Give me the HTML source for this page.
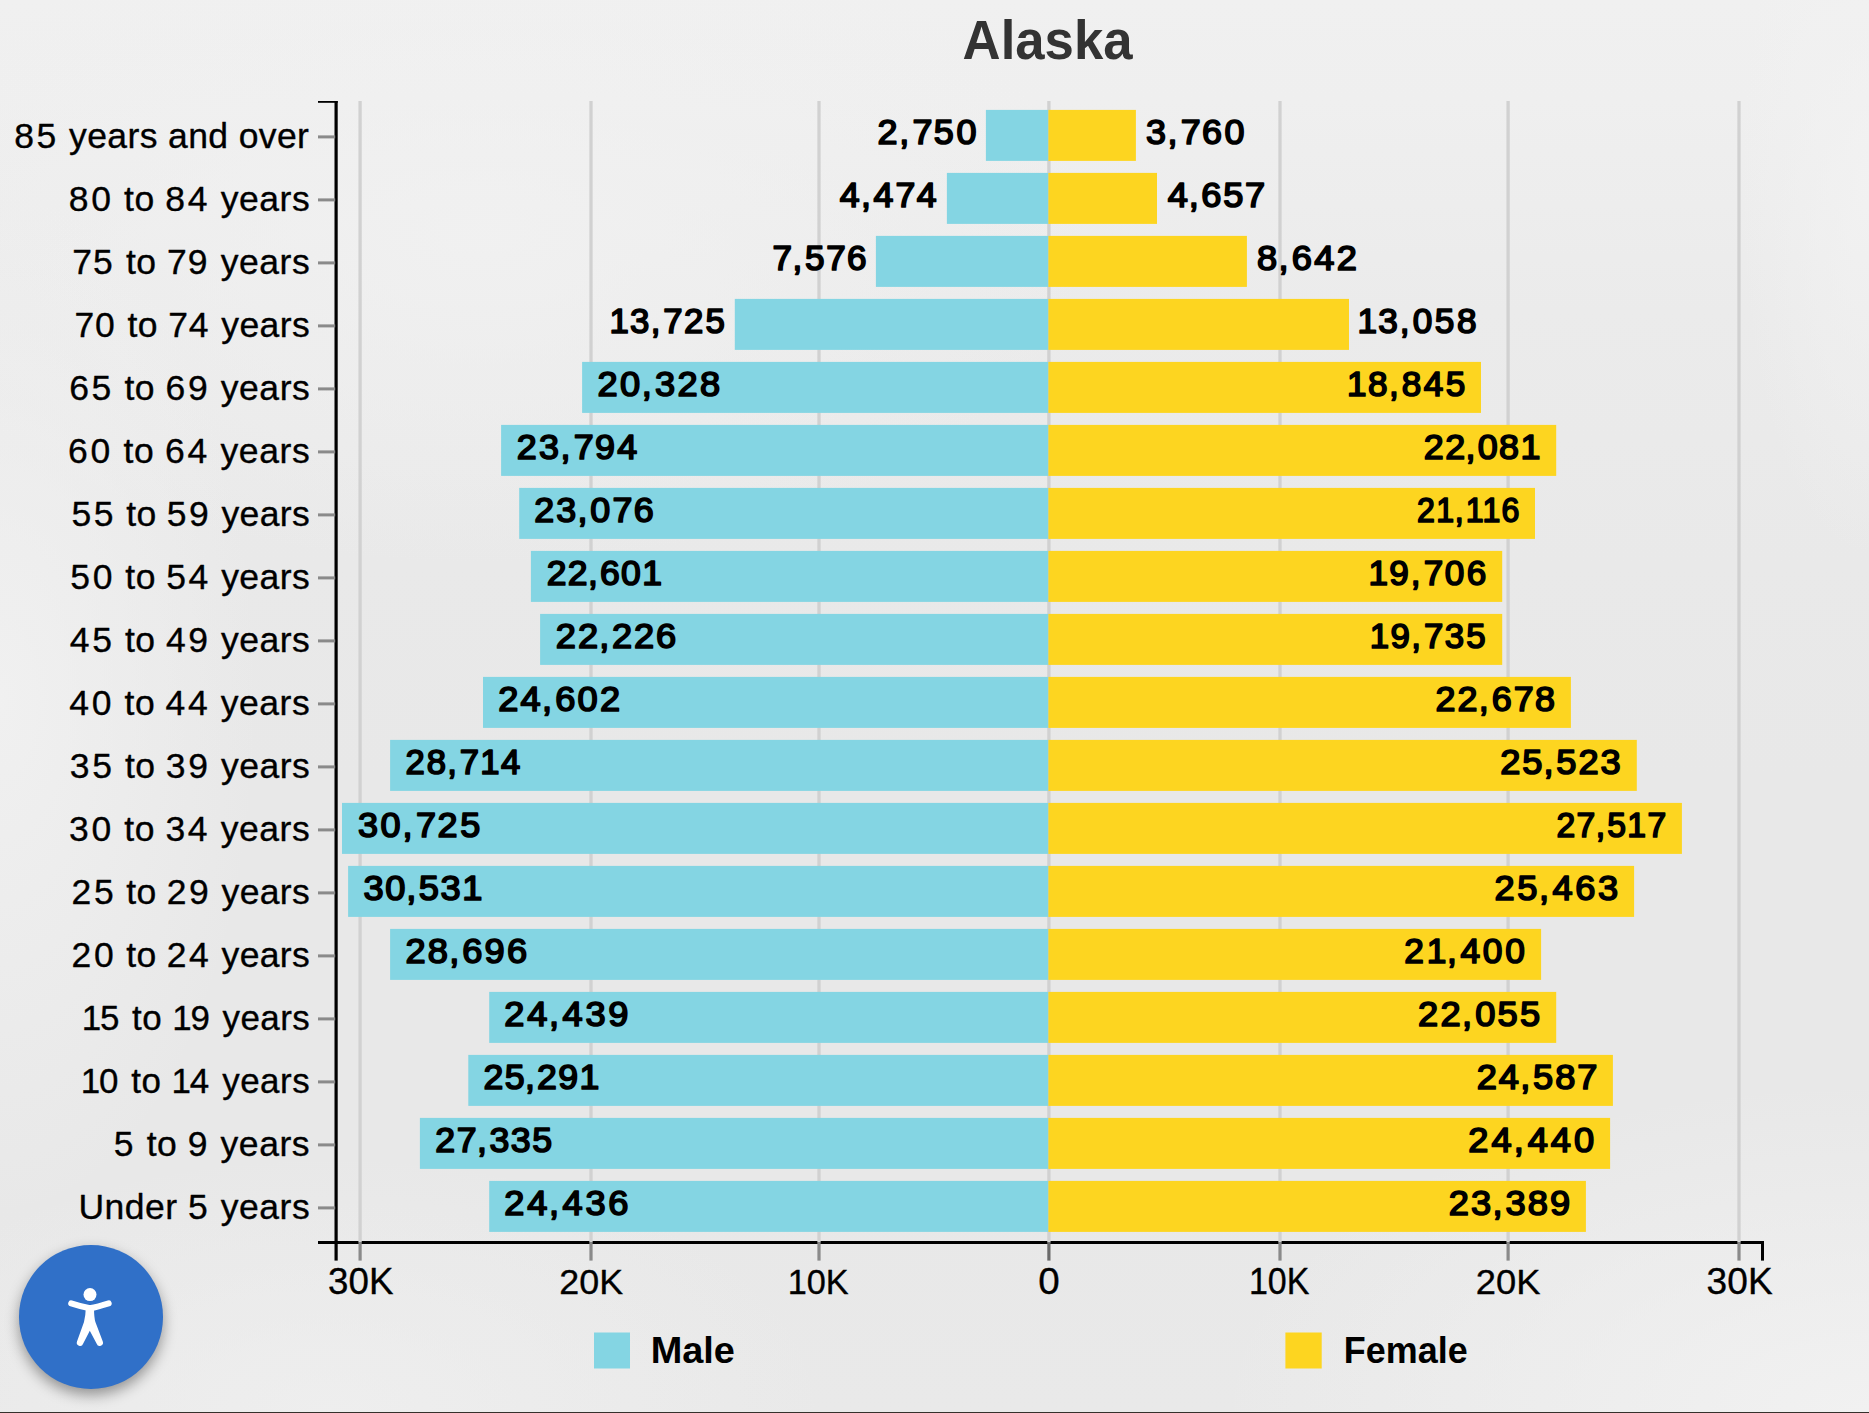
<!DOCTYPE html>
<html lang="en">
<head>
<meta charset="utf-8">
<title>Alaska population pyramid</title>
<style>
html,body{margin:0;padding:0;}
body{width:1869px;height:1413px;overflow:hidden;position:relative;background:#eeeeee;font-family:"Liberation Sans",sans-serif;}
#bg{position:absolute;left:0;top:0;width:1869px;height:1413px;
 background:
  radial-gradient(ellipse 650px 330px at 1869px 1413px, rgba(241,241,241,1), rgba(241,241,241,0) 100%),
  radial-gradient(ellipse 260px 520px at 0px 700px, rgba(241,241,241,.9), rgba(241,241,241,0) 100%),
  radial-gradient(ellipse 500px 260px at 330px 1413px, rgba(240,240,240,.7), rgba(240,240,240,0) 100%),
  radial-gradient(ellipse 620px 340px at 480px 230px, rgba(241,241,241,.85), rgba(241,241,241,0) 100%),
  radial-gradient(ellipse 130px 380px at 1869px 180px, rgba(242,242,242,.85), rgba(242,242,242,0) 100%),
  linear-gradient(180deg,#f0f0f0 0%,#efefef 7%,#ebebeb 22%,#e9e9e9 40%,#e8e8e8 55%,#e8e8e8 85%,#e9e9e9 100%);}
#chart{position:absolute;left:0;top:0;display:block;}
.grid rect{fill:#d1d1d1;}
.male rect,.legend .m{fill:#84d5e3;}
.female rect,.legend .f{fill:#fdd520;}
.axis rect{fill:#000;}
.ticks rect{fill:#8a8a8a;}
.ticks rect.zero{fill:#6a6a6a;}
text{fill:#000;white-space:pre;}
.title text{fill:#333;}
#a11y{position:absolute;left:19.2px;top:1244.9px;width:143.7px;height:143.7px;border-radius:50%;background:#3070c8;box-shadow:0 6px 14px rgba(0,0,0,.38);}
#a11y svg{position:absolute;left:0;top:0;}
#bottomline{position:absolute;left:0;top:1412px;width:1869px;height:1px;background:#35302b;}

</style>
</head>
<body>
<div id="bg"></div>
<svg id="chart" width="1869" height="1413" viewBox="0 0 1869 1413">
<g class="axis">
<rect x="334.5" y="101" width="3.2" height="1159.6"/>
<rect x="318" y="101" width="19.7" height="1.8"/>
<rect x="318" y="1241" width="1446" height="3"/>
<rect x="1761" y="1241" width="3" height="19.6"/>
</g>
<g class="grid">
<rect x="358.45" y="101" width="3.3" height="1141.6"/>
<rect x="589.35" y="101" width="3.3" height="1141.6"/>
<rect x="817.35" y="101" width="3.3" height="1141.6"/>
<rect x="1047.25" y="101" width="3.3" height="1141.6"/>
<rect x="1278.35" y="101" width="3.3" height="1141.6"/>
<rect x="1506.45" y="101" width="3.3" height="1141.6"/>
<rect x="1737.35" y="101" width="3.3" height="1141.6"/>
</g>
<g class="male">
<rect x="985.9" y="109.9" width="62.5" height="51.0"/>
<rect x="946.9" y="172.9" width="101.5" height="51.0"/>
<rect x="875.9" y="235.9" width="172.5" height="51.0"/>
<rect x="734.8" y="298.9" width="313.6" height="51.0"/>
<rect x="582.1" y="361.9" width="466.3" height="51.0"/>
<rect x="501.1" y="424.9" width="547.3" height="51.0"/>
<rect x="519.2" y="487.9" width="529.2" height="51.0"/>
<rect x="530.9" y="550.9" width="517.5" height="51.0"/>
<rect x="540.1" y="613.9" width="508.3" height="51.0"/>
<rect x="483.0" y="676.9" width="565.4" height="51.0"/>
<rect x="390.1" y="739.9" width="658.3" height="51.0"/>
<rect x="342.0" y="802.9" width="706.4" height="51.0"/>
<rect x="348.1" y="865.9" width="700.3" height="51.0"/>
<rect x="390.1" y="928.9" width="658.3" height="51.0"/>
<rect x="489.2" y="991.9" width="559.2" height="51.0"/>
<rect x="468.3" y="1054.9" width="580.1" height="51.0"/>
<rect x="419.9" y="1117.9" width="628.5" height="51.0"/>
<rect x="489.2" y="1180.9" width="559.2" height="51.0"/>
</g>
<g class="female">
<rect x="1048.4" y="109.9" width="87.5" height="51.0"/>
<rect x="1048.4" y="172.9" width="108.6" height="51.0"/>
<rect x="1048.4" y="235.9" width="198.5" height="51.0"/>
<rect x="1048.4" y="298.9" width="300.6" height="51.0"/>
<rect x="1048.4" y="361.9" width="432.6" height="51.0"/>
<rect x="1048.4" y="424.9" width="507.8" height="51.0"/>
<rect x="1048.4" y="487.9" width="486.6" height="51.0"/>
<rect x="1048.4" y="550.9" width="453.8" height="51.0"/>
<rect x="1048.4" y="613.9" width="453.8" height="51.0"/>
<rect x="1048.4" y="676.9" width="522.5" height="51.0"/>
<rect x="1048.4" y="739.9" width="588.4" height="51.0"/>
<rect x="1048.4" y="802.9" width="633.5" height="51.0"/>
<rect x="1048.4" y="865.9" width="585.7" height="51.0"/>
<rect x="1048.4" y="928.9" width="492.7" height="51.0"/>
<rect x="1048.4" y="991.9" width="507.8" height="51.0"/>
<rect x="1048.4" y="1054.9" width="564.5" height="51.0"/>
<rect x="1048.4" y="1117.9" width="561.7" height="51.0"/>
<rect x="1048.4" y="1180.9" width="537.5" height="51.0"/>
</g>
<g class="ticks">
<rect x="318" y="135.4" width="17.2" height="3"/>
<rect x="318" y="198.4" width="17.2" height="3"/>
<rect x="318" y="261.4" width="17.2" height="3"/>
<rect x="318" y="324.4" width="17.2" height="3"/>
<rect x="318" y="387.4" width="17.2" height="3"/>
<rect x="318" y="450.4" width="17.2" height="3"/>
<rect x="318" y="513.4" width="17.2" height="3"/>
<rect x="318" y="576.4" width="17.2" height="3"/>
<rect x="318" y="639.4" width="17.2" height="3"/>
<rect x="318" y="702.4" width="17.2" height="3"/>
<rect x="318" y="765.4" width="17.2" height="3"/>
<rect x="318" y="828.4" width="17.2" height="3"/>
<rect x="318" y="891.4" width="17.2" height="3"/>
<rect x="318" y="954.4" width="17.2" height="3"/>
<rect x="318" y="1017.4" width="17.2" height="3"/>
<rect x="318" y="1080.4" width="17.2" height="3"/>
<rect x="318" y="1143.4" width="17.2" height="3"/>
<rect x="318" y="1206.4" width="17.2" height="3"/>
<rect x="358.50" y="1242.6" width="3.2" height="18"/>
<rect x="589.40" y="1242.6" width="3.2" height="18"/>
<rect x="817.40" y="1242.6" width="3.2" height="18"/>
<rect class="zero" x="1047.30" y="1242.6" width="3.2" height="18"/>
<rect x="1278.40" y="1242.6" width="3.2" height="18"/>
<rect x="1506.50" y="1242.6" width="3.2" height="18"/>
<rect x="1737.40" y="1242.6" width="3.2" height="18"/>
</g>
<g class="ylab" font-family="'Liberation Sans', sans-serif" font-size="35.5" font-weight="400" stroke="#000" stroke-width="0.35" stroke-linejoin="round">
<text transform="translate(14.15 147.50)" dx="0 2.57 2.57 0.38 0.38 0.38 0.38 0.38 0.38 0.38 0.38 0.38 0.38 0.38 0.38 0.38 0.38">85 years and over</text>
<text transform="translate(68.65 210.50)" dx="0 2.75 2.75 0.56 0.56 0.56 0.56 2.75 2.75 0.56 0.56 0.56 0.56 0.56">80 to 84 years</text>
<text transform="translate(72.34 273.50)" dx="0 0.96 2.73 0.55 0.55 0.55 0.55 0.96 2.73 0.55 0.55 0.55 0.55 0.55">75 to 79 years</text>
<text transform="translate(74.44 336.50)" dx="0 0.80 2.57 0.38 0.38 0.38 0.38 0.80 2.57 0.38 0.38 0.38 0.38 0.38">70 to 74 years</text>
<text transform="translate(69.13 399.50)" dx="0 2.71 2.71 0.52 0.52 0.52 0.52 2.71 2.71 0.52 0.52 0.52 0.52 0.52">65 to 69 years</text>
<text transform="translate(68.03 462.50)" dx="0 2.79 2.79 0.61 0.61 0.61 0.61 2.79 2.79 0.61 0.61 0.61 0.61 0.61">60 to 64 years</text>
<text transform="translate(71.45 525.50)" dx="0 2.53 2.53 0.34 0.34 0.34 0.34 2.53 2.53 0.34 0.34 0.34 0.34 0.34">55 to 59 years</text>
<text transform="translate(70.35 588.50)" dx="0 2.61 2.61 0.43 0.43 0.43 0.43 2.61 2.61 0.43 0.43 0.43 0.43 0.43">50 to 54 years</text>
<text transform="translate(69.82 651.50)" dx="0 2.66 2.66 0.47 0.47 0.47 0.47 2.66 2.66 0.47 0.47 0.47 0.47 0.47">45 to 49 years</text>
<text transform="translate(69.22 714.50)" dx="0 2.70 2.70 0.51 0.51 0.51 0.51 2.70 2.70 0.51 0.51 0.51 0.51 0.51">40 to 44 years</text>
<text transform="translate(69.72 777.50)" dx="0 2.66 2.66 0.48 0.48 0.48 0.48 2.66 2.66 0.48 0.48 0.48 0.48 0.48">35 to 39 years</text>
<text transform="translate(68.92 840.50)" dx="0 2.72 2.72 0.54 0.54 0.54 0.54 2.72 2.72 0.54 0.54 0.54 0.54 0.54">30 to 34 years</text>
<text transform="translate(71.61 903.50)" dx="0 2.52 2.52 0.33 0.33 0.33 0.33 2.52 2.52 0.33 0.33 0.33 0.33 0.33">25 to 29 years</text>
<text transform="translate(71.61 966.50)" dx="0 2.52 2.52 0.33 0.33 0.33 0.33 2.52 2.52 0.33 0.33 0.33 0.33 0.33">20 to 24 years</text>
<text transform="translate(81.76 1029.50) scale(0.9838 1)" dx="0 -1.20 2.61 0.42 0.42 0.42 0.42 -1.20 2.61 0.42 0.42 0.42 0.42 0.42">15 to 19 years</text>
<text transform="translate(80.65 1092.50) scale(0.9846 1)" dx="0 -1.20 2.70 0.51 0.51 0.51 0.51 -1.20 2.70 0.51 0.51 0.51 0.51 0.51">10 to 14 years</text>
<text transform="translate(113.75 1155.50)" dx="0 2.72 0.53 0.53 0.53 0.53 2.72 0.53 0.53 0.53 0.53 0.53">5 to 9 years</text>
<text transform="translate(78.40 1218.50)" dx="0 0.50 0.50 0.50 0.50 0.50 0.50 2.69 0.50 0.50 0.50 0.50 0.50">Under 5 years</text>
</g>
<g class="xlab" font-family="'Liberation Sans', sans-serif" font-size="36" font-weight="400" stroke="#000" stroke-width="0.35" stroke-linejoin="round">
<text transform="translate(328.06 1293.90) scale(1.0203 1)" dx="0 0.00 0.00">30K</text>
<text transform="translate(559.29 1293.90) scale(0.9961 1)" dx="0 0.00 0.00">20K</text>
<text transform="translate(787.63 1293.90) scale(0.9527 1)" dx="0 0.00 0.00">10K</text>
<text transform="translate(1038.23 1293.90) scale(1.0722 1)">0</text>
<text transform="translate(1248.95 1293.90) scale(0.9445 1)" dx="0 0.00 0.00">10K</text>
<text transform="translate(1475.77 1293.90) scale(1.0091 1)" dx="0 0.00 0.00">20K</text>
<text transform="translate(1706.44 1293.90) scale(1.0300 1)" dx="0 0.15 0.15">30K</text>
</g>
<g class="blab" font-family="'Liberation Sans', sans-serif" font-size="34.5" font-weight="400" stroke="#000" stroke-width="1.7" stroke-linejoin="round">
<text transform="translate(877.43 144.00) scale(1.0419 1)" dx="0 1.65 3.22 1.30 2.45">2,750</text>
<text transform="translate(1145.89 144.00) scale(1.0409 1)" dx="0 1.56 3.13 1.30 2.36">3,760</text>
<text transform="translate(839.83 207.00) scale(1.0361 1)" dx="0 1.14 2.71 1.94 1.30">4,474</text>
<text transform="translate(1167.63 207.00) scale(1.0500 1)" dx="0 0.85 2.42 1.65 1.65">4,657</text>
<text transform="translate(772.54 270.00) scale(1.0174 1)" dx="0 0.50 2.53 1.76 1.30">7,576</text>
<text transform="translate(1256.92 270.00) scale(1.0500 1)" dx="0 1.43 3.00 2.23 2.23">8,642</text>
<text transform="translate(609.48 333.00) scale(1.0072 1)" dx="0 1.30 1.33 2.90 1.30 2.13">13,725</text>
<text transform="translate(1357.45 333.00) scale(1.0206 1)" dx="0 1.30 1.66 3.24 2.46 2.46">13,058</text>
<text transform="translate(597.53 396.00) scale(1.0500 1)" dx="0 2.26 1.46 3.03 2.26 2.26">20,328</text>
<text transform="translate(1347.06 396.00) scale(1.0187 1)" dx="0 1.30 1.48 3.05 2.28 2.28">18,845</text>
<text transform="translate(516.84 459.00) scale(1.0412 1)" dx="0 2.21 1.41 2.98 1.30 2.21">23,794</text>
<text transform="translate(1423.84 459.00) scale(1.0401 1)" dx="0 1.30 0.50 2.10 1.30 1.30">22,081</text>
<text transform="translate(534.34 522.00) scale(1.0391 1)" dx="0 1.99 1.19 2.76 1.99 1.30">23,076</text>
<text transform="translate(1417.04 522.00) scale(0.9310 1)" dx="0 1.57 0.50 2.34 1.30 1.30">21,116</text>
<text transform="translate(546.65 585.00) scale(1.0292 1)" dx="0 1.30 0.50 2.10 1.30 1.30">22,601</text>
<text transform="translate(1368.46 585.00) scale(1.0169 1)" dx="0 1.30 1.82 3.39 1.30 2.62">19,706</text>
<text transform="translate(555.83 648.00) scale(1.0500 1)" dx="0 1.84 1.04 2.61 1.84 1.84">22,226</text>
<text transform="translate(1369.87 648.00) scale(1.0091 1)" dx="0 1.30 1.42 2.99 1.30 2.22">19,735</text>
<text transform="translate(498.23 711.00) scale(1.0500 1)" dx="0 2.11 1.31 2.88 2.11 2.11">24,602</text>
<text transform="translate(1435.54 711.00) scale(1.0394 1)" dx="0 2.03 1.23 2.80 2.03 1.30">22,678</text>
<text transform="translate(405.57 774.00) scale(1.0049 1)" dx="0 1.99 1.19 2.76 1.30 1.30">28,714</text>
<text transform="translate(1500.13 774.00) scale(1.0500 1)" dx="0 1.88 1.08 2.65 1.88 1.88">25,523</text>
<text transform="translate(357.89 837.00) scale(1.0445 1)" dx="0 2.57 1.77 3.34 1.30 2.57">30,725</text>
<text transform="translate(1556.59 837.00) scale(0.9774 1)" dx="0 1.30 0.50 2.10 1.30 1.30">27,517</text>
<text transform="translate(363.38 900.00) scale(1.0500 1)" dx="0 1.58 0.78 2.35 1.58 1.58">30,531</text>
<text transform="translate(1494.53 900.00) scale(1.0500 1)" dx="0 2.43 1.63 3.20 2.43 2.43">25,463</text>
<text transform="translate(405.53 963.00) scale(1.0500 1)" dx="0 2.05 1.25 2.82 2.05 2.05">28,696</text>
<text transform="translate(1404.35 963.00) scale(1.0238 1)" dx="0 2.75 0.50 3.53 2.75 2.75">21,400</text>
<text transform="translate(504.33 1026.00) scale(1.0500 1)" dx="0 2.53 1.73 3.30 2.53 2.53">24,439</text>
<text transform="translate(1418.03 1026.00) scale(1.0500 1)" dx="0 2.16 1.36 2.93 2.16 2.16">22,055</text>
<text transform="translate(483.44 1089.00) scale(1.0346 1)" dx="0 1.30 0.50 2.10 1.30 1.30">25,291</text>
<text transform="translate(1476.73 1089.00) scale(1.0500 1)" dx="0 1.89 1.09 2.66 1.89 1.89">24,587</text>
<text transform="translate(435.34 1152.00) scale(1.0342 1)" dx="0 1.50 0.50 2.27 1.50 1.50">27,335</text>
<text transform="translate(1468.33 1152.00) scale(1.0500 1)" dx="0 2.87 2.07 3.64 2.87 2.87">24,440</text>
<text transform="translate(504.33 1215.00) scale(1.0500 1)" dx="0 2.53 1.73 3.30 2.53 2.53">24,436</text>
<text transform="translate(1448.63 1215.00) scale(1.0500 1)" dx="0 2.05 1.25 2.82 2.05 2.05">23,389</text>
</g>
<g class="legend">
<rect class="m" x="594" y="1332.5" width="36" height="36"/>
<rect class="f" x="1285.4" y="1332.5" width="36.3" height="36"/>
</g>
<g class="leglab" font-family="'Liberation Sans', sans-serif" font-size="36.8" font-weight="700">
<text transform="translate(650.64 1363.20) scale(1.0308 1)" dx="0 0.00 0.00 0.00">Male</text>
<text transform="translate(1343.85 1363.20) scale(0.9765 1)" dx="0 0.00 0.00 0.00 0.00 0.00">Female</text>
</g>
<g class="title" font-family="'Liberation Sans', sans-serif" font-size="54.7" font-weight="700">
<text transform="translate(962.60 59.40) scale(0.9634 1)" dx="0 0.00 0.00 0.00 0.00 0.00">Alaska</text>
</g>
</svg>
<div id="a11y" role="button" aria-label="Accessibility options">
<svg width="143.7" height="143.7" viewBox="19.2 1244.9 143.7 143.7">
<circle cx="90.2" cy="1294.5" r="6.5" fill="#fff"/>
<path d="M71.4 1303.2 Q82 1306.6 90.1 1308.2 Q98 1306.6 108.9 1303.2" fill="none" stroke="#fff" stroke-width="6" stroke-linecap="round" stroke-linejoin="round"/>
<path d="M86 1308 L94.2 1308 Q94.3 1318 95.6 1322 L103 1341.5 A3.2 3.2 0 0 1 96.9 1343.7 L90 1330.6 L83.3 1343.7 A3.2 3.2 0 0 1 77.2 1341.5 L84.2 1322 Q85.8 1316 86 1308 Z" fill="#fff"/>
</svg>
</div>

<div id="bottomline"></div>
</body>
</html>
